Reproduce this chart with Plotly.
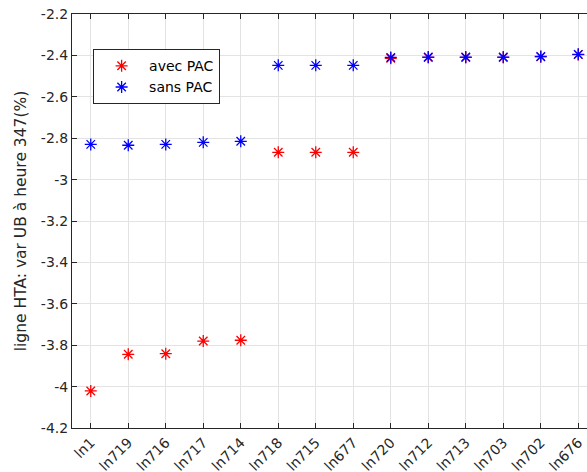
import plotly.graph_objects as go

categories = ["ln1", "ln719", "ln716", "ln717", "ln714", "ln718", "ln715", "ln677",
              "ln720", "ln712", "ln713", "ln703", "ln702", "ln676"]
avec_pac = [-4.021, -3.844, -3.841, -3.780, -3.776, -2.868, -2.868, -2.868,
            -2.414, -2.410, -2.410, -2.410, -2.407, -2.396]
sans_pac = [-2.830, -2.834, -2.830, -2.820, -2.815, -2.448, -2.448, -2.448,
            -2.410, -2.408, -2.408, -2.408, -2.405, -2.395]
y_tickvals = [-4.2, -4.0, -3.8, -3.6, -3.4, -3.2, -3.0, -2.8, -2.6, -2.4, -2.2]
y_ticktext = ["-4.2", "-4", "-3.8", "-3.6", "-3.4", "-3.2", "-3", "-2.8", "-2.6", "-2.4", "-2.2"]
y_label = "ligne HTA: var UB à heure 347(%)"

FONT = "DejaVu Sans, Liberation Sans, sans-serif"
AX = "#262626"
GRID = "#e3e3e3"

fig = go.Figure()
fig.add_trace(go.Scatter(
    x=categories, y=avec_pac, mode="markers", name="avec PAC",
    marker=dict(symbol="asterisk-open", size=10, color="#ff0000",
                line=dict(color="#ff0000", width=1.3)),
))
fig.add_trace(go.Scatter(
    x=categories, y=sans_pac, mode="markers", name="sans PAC",
    marker=dict(symbol="asterisk-open", size=10, color="#0000ff",
                line=dict(color="#0000ff", width=1.3)),
))

fig.update_layout(
    width=587, height=472,
    margin=dict(l=72, r=0, t=14, b=44),
    paper_bgcolor="white", plot_bgcolor="white",
    font=dict(family=FONT, size=14, color=AX),
    showlegend=True,
    legend=dict(
        x=0.041, y=0.915, xanchor="left", yanchor="top",
        bordercolor=AX, borderwidth=1, bgcolor="white",
        font=dict(family=FONT, size=14, color="#000000"),
        itemwidth=45, tracegroupgap=0,
    ),
)
fig.update_xaxes(
    type="category", range=[-0.5, 13.233],
    showgrid=True, gridcolor=GRID, gridwidth=1,
    showline=True, linecolor=AX, linewidth=1, mirror="allticks",
    ticks="inside", ticklen=5, tickcolor=AX, tickwidth=1,
    tickangle=-45, tickfont=dict(family=FONT, size=14, color=AX),
    automargin=False, zeroline=False,
)
fig.update_yaxes(
    range=[-4.2, -2.2], tickvals=y_tickvals, ticktext=y_ticktext,
    showgrid=True, gridcolor=GRID, gridwidth=1,
    showline=True, linecolor=AX, linewidth=1, mirror=False,
    ticks="inside", ticklen=5, tickcolor=AX, tickwidth=1,
    tickfont=dict(family=FONT, size=14, color=AX),
    title=dict(text=y_label, font=dict(family=FONT, size=15.5, color=AX), standoff=10),
    automargin=False, zeroline=False,
)

fig.write_html("out.html", config={"displayModeBar": False},
               post_script="document.body.style.margin='0';")
